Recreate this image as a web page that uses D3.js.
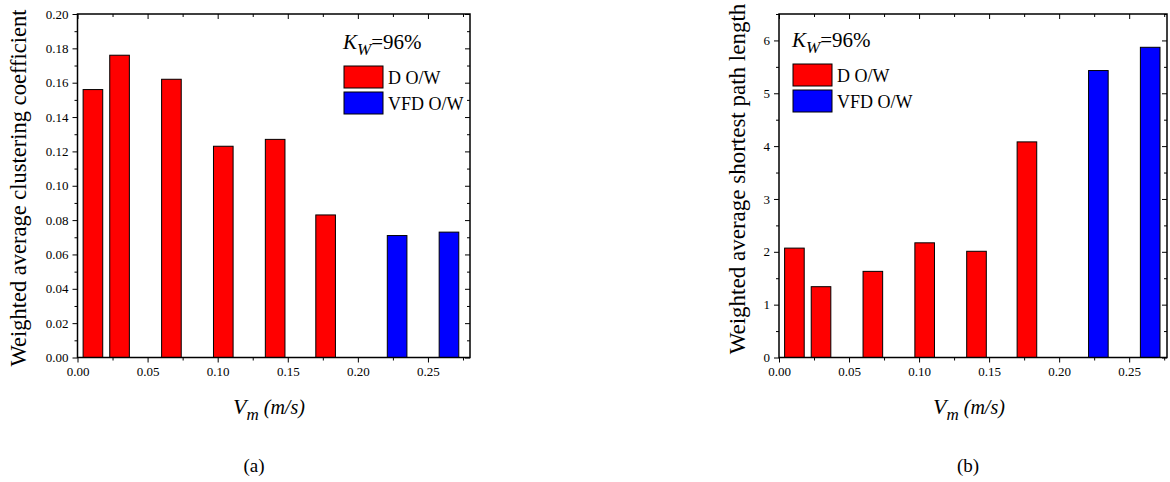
<!DOCTYPE html>
<html>
<head>
<meta charset="utf-8">
<style>
  body { margin: 0; background: #fff; }
  .tick line { stroke: #000; }
</style>
</head>
<body>
<div class="chart"></div>
<script src="https://d3js.org/d3.v7.min.js"></script>
<script>
  // data
  const vm = [0.011, 0.030, 0.067, 0.104, 0.141, 0.177, 0.228, 0.265];
  const flowType = ['D O/W', 'D O/W', 'D O/W', 'D O/W', 'D O/W', 'D O/W', 'VFD O/W', 'VFD O/W'];
  const clustering = [0.156, 0.176, 0.162, 0.123, 0.127, 0.083, 0.071, 0.073];
  const pathLength = [2.07, 1.34, 1.63, 2.17, 2.01, 4.08, 5.43, 5.87];
  const legendNames = ['D O/W', 'VFD O/W'];
  const xMajor = [0, 0.05, 0.10, 0.15, 0.20, 0.25];
  const xMinor = [0.025, 0.075, 0.125, 0.175, 0.225, 0.275];
  const yMajorA = [0, 0.02, 0.04, 0.06, 0.08, 0.10, 0.12, 0.14, 0.16, 0.18, 0.20];
  const yMinorA = [0.01, 0.03, 0.05, 0.07, 0.09, 0.11, 0.13, 0.15, 0.17, 0.19];
  const yMajorB = [0, 1, 2, 3, 4, 5, 6];
  const yMinorB = [0.5, 1.5, 2.5, 3.5, 4.5, 5.5, 6.5];

  const colors = { 'D O/W': '#ff0000', 'VFD O/W': '#0000ff' };
  const barW = 0.014;
  const serif = '"Liberation Serif", "Times New Roman", Times, serif';

  const svg = d3.select('.chart').append('svg')
    .attr('width', 1170).attr('height', 482);

  function drawPanel(opt) {
    const x = d3.scaleLinear().domain([0, opt.xMax]).range([opt.left, opt.right]);
    const y = d3.scaleLinear().domain([0, opt.yMax]).range([opt.bottom, opt.top]);
    const g = svg.append('g').attr('font-family', serif);

    // bars
    g.selectAll('rect.bar')
      .data(vm.map((v, i) => ({ v: v, val: opt.values[i], t: flowType[i] })))
      .join('rect')
      .attr('class', 'bar')
      .attr('x', d => x(d.v - barW / 2))
      .attr('width', d => x(barW) - x(0))
      .attr('y', d => y(d.val))
      .attr('height', d => y(0) - y(d.val))
      .attr('fill', d => colors[d.t])
      .attr('stroke', '#000')
      .attr('stroke-width', 1);

    // axes: bottom/left outward with labels, top/right inward mirrors
    const fmtX = d3.format('.2f');
    const bottom = g.append('g').attr('transform', `translate(0,${opt.bottom})`);
    bottom.call(d3.axisBottom(x).tickValues(xMajor).tickSize(5).tickPadding(4).tickFormat(fmtX));
    bottom.append('g').call(d3.axisBottom(x).tickValues(xMinor).tickSize(3).tickFormat(''));
    const top = g.append('g').attr('transform', `translate(0,${opt.top})`);
    top.call(d3.axisBottom(x).tickValues(xMajor).tickSize(5).tickFormat(''));
    top.append('g').call(d3.axisBottom(x).tickValues(xMinor).tickSize(3).tickFormat(''));

    const left = g.append('g').attr('transform', `translate(${opt.left},0)`);
    left.call(d3.axisLeft(y).tickValues(opt.yMajor).tickSize(5).tickPadding(4).tickFormat(opt.yFmt));
    left.append('g').call(d3.axisLeft(y).tickValues(opt.yMinor).tickSize(3).tickFormat(''));
    const right = g.append('g').attr('transform', `translate(${opt.right},0)`);
    right.call(d3.axisLeft(y).tickValues(opt.yMajor).tickSize(5).tickFormat(''));
    right.append('g').call(d3.axisLeft(y).tickValues(opt.yMinor).tickSize(3).tickFormat(''));
    g.selectAll('.domain').remove();
    g.selectAll('.tick text')
      .attr('font-family', serif)
      .attr('font-size', 13);
    bottom.attr('font-family', serif);
    left.attr('font-family', serif);

    g.append('rect')
      .attr('x', opt.left).attr('y', opt.top)
      .attr('width', opt.right - opt.left).attr('height', opt.bottom - opt.top)
      .attr('fill', 'none').attr('stroke', '#000').attr('stroke-width', 1.5);

    // y label
    g.append('text')
      .attr('transform', `translate(${opt.yLabelX},${opt.yLabelY}) rotate(-90)`)
      .attr('text-anchor', 'middle')
      .attr('font-family', serif)
      .attr('font-size', opt.yLabelSize)
      .text(opt.yLabel);

    // x label
    const xl = g.append('text')
      .attr('x', opt.xLabelX).attr('y', 414)
      .attr('font-family', serif)
      .attr('font-size', 22);
    xl.append('tspan').attr('font-style', 'italic').text('V');
    xl.append('tspan').attr('font-style', 'italic').attr('font-size', 17).attr('dy', 6).text('m');
    xl.append('tspan').attr('font-style', 'italic').attr('font-size', 20).attr('dy', -6).text(' (m/s)');

    // legend
    const kw = g.append('text').attr('x', opt.legX).attr('y', opt.legY)
      .attr('font-family', serif).attr('font-size', 21);
    kw.append('tspan').attr('font-style', 'italic').text('K');
    kw.append('tspan').attr('font-style', 'italic').attr('font-size', 17).attr('dy', 6).text('W');
    kw.append('tspan').attr('dy', -6).text('=96%');

    legendNames.forEach((name, i) => {
      const by = opt.legY + 17 + i * 26;
      g.append('rect')
        .attr('x', opt.legX + 1).attr('y', by)
        .attr('width', 39).attr('height', 22)
        .attr('fill', colors[name]).attr('stroke', '#000').attr('stroke-width', 1);
      g.append('text')
        .attr('x', opt.legX + 45).attr('y', by + 18)
        .attr('font-family', serif)
        .attr('font-size', 18)
        .text(name);
    });

    // caption
    g.append('text')
      .attr('x', opt.capX).attr('y', 472)
      .attr('text-anchor', 'middle')
      .attr('font-family', serif)
      .attr('font-size', 19)
      .text(opt.caption);
  }

  drawPanel({
    left: 77.5, right: 470, top: 14, bottom: 357.5,
    xMax: 0.28, yMax: 0.20,
    values: clustering,
    yMajor: yMajorA, yMinor: yMinorA, yFmt: d3.format('.2f'),
    yLabel: 'Weighted average clustering coefficient', yLabelX: 26, yLabelY: 188, yLabelSize: 22.5,
    xLabelX: 233, legX: 343, legY: 49, capX: 254, caption: '(a)'
  });

  drawPanel({
    left: 779, right: 1167, top: 14, bottom: 357.5,
    xMax: 0.277, yMax: 6.5,
    values: pathLength,
    yMajor: yMajorB, yMinor: yMinorB, yFmt: d3.format('d'),
    yLabel: 'Weighted average shortest path length', yLabelX: 745, yLabelY: 179, yLabelSize: 23,
    xLabelX: 933, legX: 792, legY: 47, capX: 968, caption: '(b)'
  });
</script>
</body>
</html>
